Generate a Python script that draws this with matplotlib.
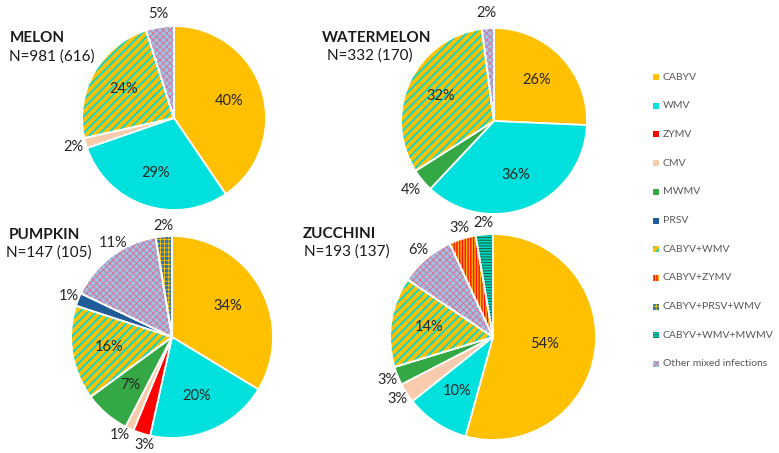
import matplotlib
matplotlib.use("Agg")
import matplotlib.pyplot as plt
import numpy as np
from matplotlib.patches import Rectangle, Wedge

plt.rcParams['font.family'] = ['Lato', 'DejaVu Sans']

W, H = 779, 453

legend_labels = ["CABYV", "WMV", "ZYMV", "CMV", "MWMV", "PRSV", "CABYV+WMV",
                 "CABYV+ZYMV", "CABYV+PRSV+WMV", "CABYV+WMV+MWMV",
                 "Other mixed infections"]

# slices clockwise from 12 o'clock: category, share of the circle as drawn, printed label
melon_cats = ["CABYV", "WMV", "CMV", "CABYV+WMV", "Other mixed infections"]
melon_share = [40.5, 29.2, 1.8, 23.6, 4.9]
melon_pct = [40, 29, 2, 24, 5]

watermelon_cats = ["CABYV", "WMV", "MWMV", "CABYV+WMV", "Other mixed infections"]
watermelon_share = [25.7, 36.3, 4.0, 31.9, 2.1]
watermelon_pct = [26, 36, 4, 32, 2]

pumpkin_cats = ["CABYV", "WMV", "ZYMV", "CMV", "MWMV", "CABYV+WMV", "PRSV",
                "Other mixed infections", "CABYV+PRSV+WMV"]
pumpkin_share = [33.7, 19.8, 2.75, 1.4, 7.3, 15.1, 2.1, 15.3, 2.6]
pumpkin_pct = [34, 20, 3, 1, 7, 16, 1, 11, 2]

zucchini_cats = ["CABYV", "WMV", "CMV", "MWMV", "CABYV+WMV", "Other mixed infections",
                 "CABYV+ZYMV", "CABYV+WMV+MWMV"]
zucchini_share = [54.3, 10.0, 3.1, 2.9, 14.1, 8.7, 4.2, 2.7]
zucchini_pct = [54, 10, 3, 3, 14, 6, 3, 2]

# face colour, hatch, hatch colour, hatch width
STYLE = {
    "CABYV": ("#FFC000", None, None, 0),
    "WMV": ("#00E0DC", None, None, 0),
    "ZYMV": ("#FF0000", None, None, 0),
    "CMV": ("#F8CBAD", None, None, 0),
    "MWMV": ("#33A845", None, None, 0),
    "PRSV": ("#1F5C99", None, None, 0),
    "CABYV+WMV": ("#FFC000", "////", "#00D8D8", 1.3),
    "CABYV+ZYMV": ("#FFB000", "||||||", "#FF1000", 1.0),
    "CABYV+PRSV+WMV": ("#2E75B6", "++++", "#FFC000", 0.6),
    "CABYV+WMV+MWMV": ("#00D4C8", "------", "#1B6E3A", 0.8),
    "Other mixed infections": ("#9DC3E6", "xxxxx", "#E26A8A", 0.6),
}


def hatch_patch(ax, patch_cls, args, cat):
    face, hatch, hcol, hlw = STYLE[cat]
    if not hatch:
        return
    with plt.rc_context({'hatch.linewidth': hlw}):
        p = patch_cls(*args, facecolor='none', edgecolor=hcol, linewidth=0, hatch=hatch)
    if hasattr(p, "set_hatch_linewidth"):
        p.set_hatch_linewidth(hlw)
    ax.add_patch(p)
    return p


def draw_pie(ax, cats, share, pct, center, radius, outside, title, n_text, title_xy, n_xy,
             out_d=1.14, nudge=None):
    nudge = nudge or {}
    cx, cy = center[0], H - center[1]
    faces = [STYLE[c][0] for c in cats]
    wedges, _ = ax.pie(share, colors=faces, startangle=90, counterclock=False,
                       center=(cx, cy), radius=radius,
                       wedgeprops=dict(edgecolor='white', linewidth=1.3))
    for w, c in zip(wedges, cats):
        if STYLE[c][1]:
            hatch_patch(ax, Wedge, ((cx, cy), radius, w.theta1, w.theta2), c)
            ax.add_patch(Wedge((cx, cy), radius, w.theta1, w.theta2,
                               facecolor='none', edgecolor='white', linewidth=1.3))
    for i, (w, s, p) in enumerate(zip(wedges, share, pct)):
        mid = np.deg2rad((w.theta1 + w.theta2) / 2 + nudge.get(i, 0))
        if i in outside:
            d = out_d
        elif s > 45:
            d = 0.5
        else:
            d = 0.63
        ax.text(cx + d * radius * np.cos(mid), cy + d * radius * np.sin(mid), f"{p}%",
                ha='center', va='center', fontsize=10.5, color='#262626')
    ax.text(title_xy[0], H - title_xy[1], title, ha='left', va='center',
            fontsize=11, fontweight='bold', color='#1a1a1a')
    ax.text(n_xy[0], H - n_xy[1], n_text, ha='left', va='center',
            fontsize=11, color='#1a1a1a')


fig = plt.figure(figsize=(W / 100, H / 100), dpi=100)
ax = fig.add_axes([0, 0, 1, 1])

draw_pie(ax, melon_cats, melon_share, melon_pct, (174, 118), 92, {2, 4},
         "MELON", "N=981 (616)", (10, 38), (9, 57))
draw_pie(ax, watermelon_cats, watermelon_share, watermelon_pct, (494, 121), 93, {2, 4},
         "WATERMELON", "N=332 (170)", (322, 38), (327, 56), out_d=1.16)
draw_pie(ax, pumpkin_cats, pumpkin_share, pumpkin_pct, (172, 337), 101, {2, 3, 6, 7, 8},
         "PUMPKIN", "N=147 (105)", (9, 235), (6, 253), out_d=1.1,
         nudge={2: 3, 3: -3, 7: -5})
draw_pie(ax, zucchini_cats, zucchini_share, zucchini_pct, (493, 337), 103, {2, 3, 5, 6, 7},
         "ZUCCHINI", "N=193 (137)", (303, 234), (304, 252), out_d=1.11)

# legend
for k, lab in enumerate(legend_labels):
    y = H - (77 + k * 28.7)
    ax.add_patch(Rectangle((653, y - 3), 6, 6, facecolor=STYLE[lab][0], edgecolor='none'))
    hatch_patch(ax, Rectangle, ((653, y - 3), 6, 6), lab)
    ax.text(663, y, lab, ha='left', va='center', fontsize=7.5, color='#595959')

ax.set_xlim(0, W)
ax.set_ylim(0, H)
ax.set_aspect('equal')
ax.axis('off')

fig.savefig("out.png", dpi=100)
